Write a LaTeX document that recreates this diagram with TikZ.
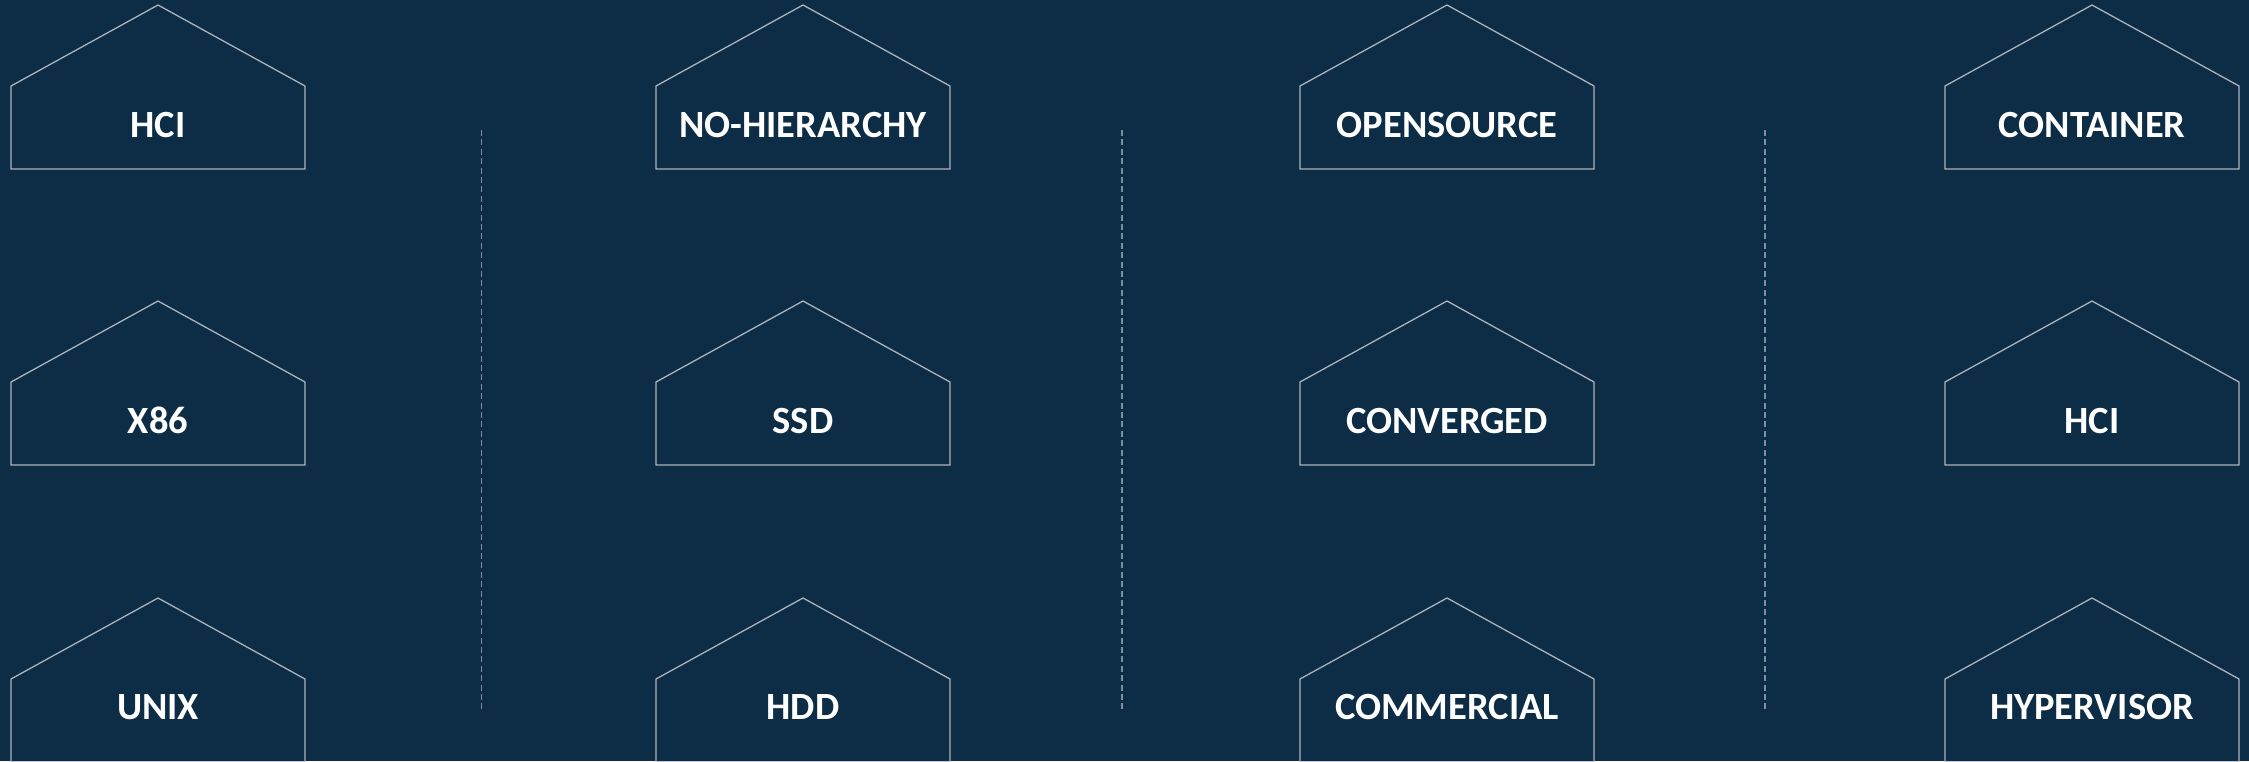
\documentclass[tikz,border=0pt]{standalone}
\usepackage{fontspec}
\setmainfont{Carlito}
\usepackage{tikz}
\usetikzlibrary{positioning}
\definecolor{navy}{RGB}{12,45,69}
\definecolor{edgegray}{RGB}{172,178,188}
\definecolor{dashgray}{RGB}{128,140,160}

\begin{document}
\begin{tikzpicture}[x=1pt,y=-1pt,
        house/.style={draw=edgegray, line width=1.3pt, line join=miter},
        divider/.style={draw=dashgray, line width=1.4pt, dash pattern=on 6pt off 3.4pt},
        tag/.style={text=white, anchor=base, inner sep=0pt, font=\bfseries\fontsize{38.5}{46}\selectfont}]
            \fill[navy] (0,0) rectangle (2249,761);
            \useasboundingbox (0,0) rectangle (2249,761);

            % house outlines
            \begin{scope}
            \clip (0,0) rectangle (2249,761);
            \foreach \x in {11,656,1300,1945}{
                \foreach \y in {5,301,598}{
                    \draw[house] (\x,\y+81) -- (\x+147,\y) -- (\x+294,\y+81) -- (\x+294,\y+164) -- (\x,\y+164) -- cycle;
                }
            }
            \end{scope}

            % dashed dividers
            \foreach \x in {481.5,1122,1765}{
                \draw[divider] (\x,130) -- (\x,711);
            }

            % labels
            \node[tag] (hcitop) at (158,137) {HCI};
            \node[tag] (x86) at (158,433) {X86};
            \node[tag] (unix) at (158,719) {UNIX};
            \node[tag] (nohier) at (803,137) {NO-HIERARCHY};
            \node[tag] (ssd) at (803,433) {SSD};
            \node[tag] (hdd) at (803,719) {HDD};
            \node[tag] (opensrc) at (1447,137) {OPENSOURCE};
            \node[tag] (converged) at (1447,433) {CONVERGED};
            \node[tag] (commercial) at (1447,719) {COMMERCIAL};
            \node[tag] (container) at (2092,137) {CONTAINER};
            \node[tag] (hcimid) at (2092,433) {HCI};
            \node[tag] (hypervisor) at (2092,719) {HYPERVISOR};
\end{tikzpicture}
\end{document}
